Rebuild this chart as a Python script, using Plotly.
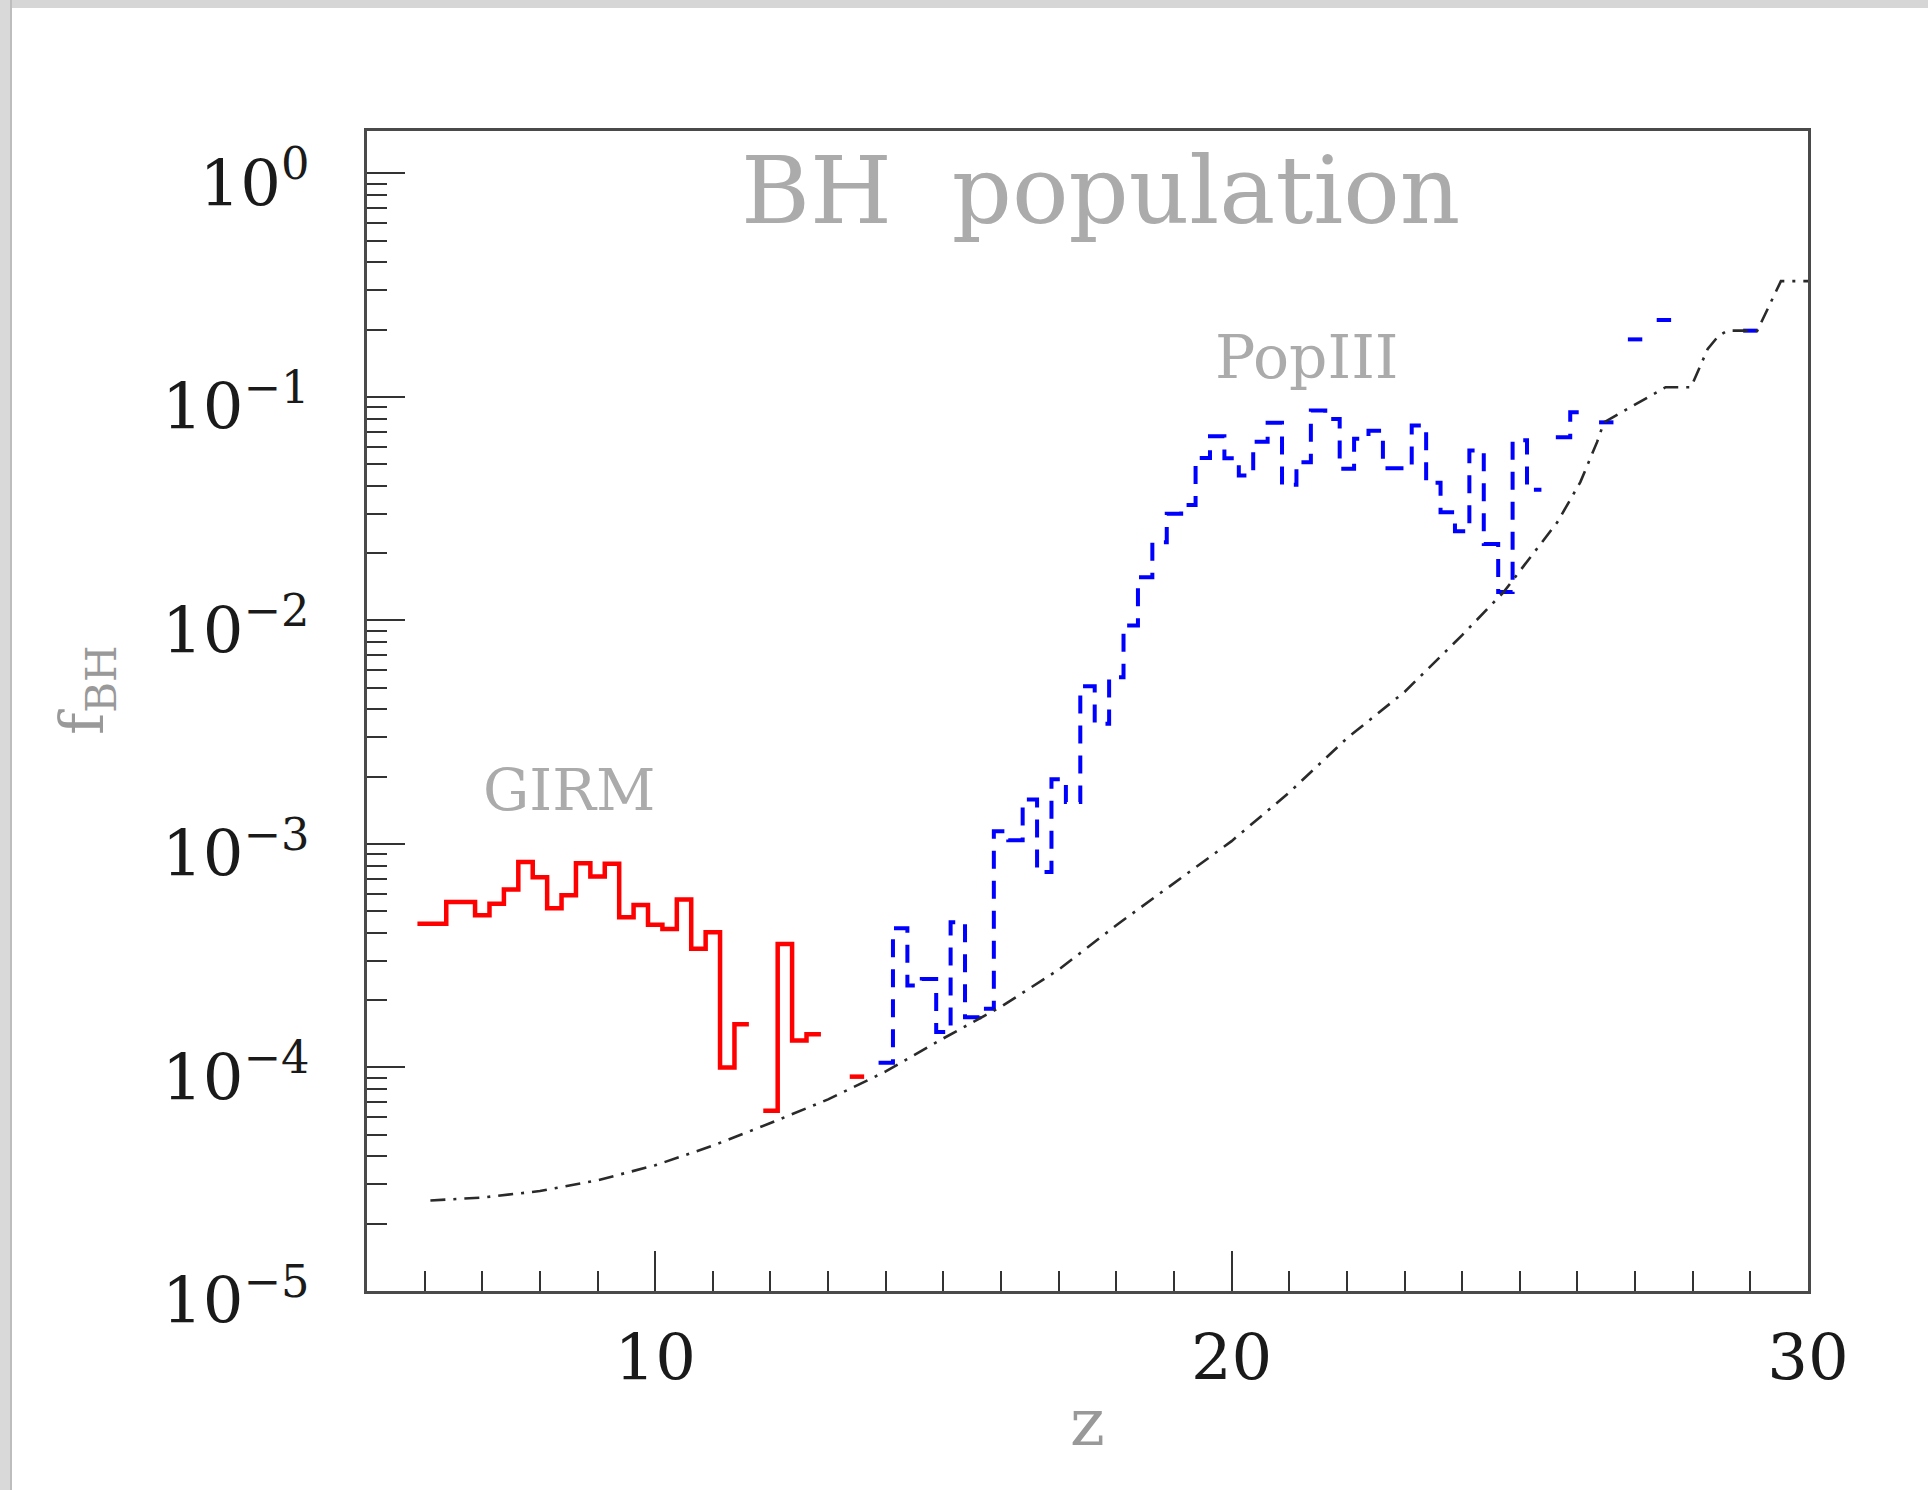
import plotly.graph_objects as go

# ---------------------------------------------------------------------------
# Data: black-hole fraction per redshift bin (bin width 0.25 in z)
# ---------------------------------------------------------------------------
BIN_HALF = 0.125

# GIRM seeds (red, solid histogram)
girm_z = [6.0, 6.25, 6.5, 6.75, 7.0, 7.25, 7.5, 7.75, 8.0, 8.25, 8.5, 8.75,
          9.0, 9.25, 9.5, 9.75, 10.0, 10.25, 10.5, 10.75, 11.0, 11.25, 11.5,
          11.75, 12.0, 12.25, 12.5, 12.75, 13.0, 13.25, 13.5]
girm_f = [4.4e-4, 4.4e-4, 5.5e-4, 5.5e-4, 4.8e-4, 5.4e-4, 6.25e-4, 8.3e-4,
          7.1e-4, 5.16e-4, 5.9e-4, 8.2e-4, 7.15e-4, 8.15e-4, 4.7e-4, 5.34e-4,
          4.35e-4, 4.17e-4, 5.64e-4, 3.4e-4, 4.03e-4, 1.0e-4, 1.56e-4,
          None, 6.4e-5, 3.57e-4, 1.32e-4, 1.41e-4, None, None, 9.1e-5]

# PopIII seeds (blue, dashed histogram)
pop3_z = [14.0, 14.25, 14.5, 14.75, 15.0, 15.25, 15.5, 15.75, 16.0, 16.25,
          16.5, 16.75, 17.0, 17.25, 17.5, 17.75, 18.0, 18.25, 18.5, 18.75,
          19.0, 19.25, 19.5, 19.75, 20.0, 20.25, 20.5, 20.75, 21.0, 21.25,
          21.5, 21.75, 22.0, 22.25, 22.5, 22.75, 23.0, 23.25, 23.5, 23.75,
          24.0, 24.25, 24.5, 24.75, 25.0, 25.25, 25.5, 25.75, 26.0, 26.25,
          26.5, 26.75, 27.0, 27.25, 27.5, 27.75, 28.0, 28.25, 28.5, 28.75,
          29.0]
pop3_f = [1.05e-4, 4.2e-4, 2.33e-4, 2.49e-4, 1.44e-4, 4.47e-4, 1.68e-4,
          1.83e-4, 1.14e-3, 1.04e-3, 1.58e-3, 7.5e-4, 1.95e-3, 1.54e-3,
          5.08e-3, 3.45e-3, 5.57e-3, 9.5e-3, 1.56e-2, 2.24e-2, 3.0e-2,
          3.29e-2, 5.33e-2, 6.68e-2, 5.32e-2, 4.45e-2, 6.3e-2, 7.66e-2,
          4.05e-2, 5.1e-2, 8.7e-2, 7.98e-2, 4.77e-2, 6.5e-2, 7.07e-2, 4.8e-2,
          4.8e-2, 7.45e-2, 4.13e-2, 3.05e-2, 2.51e-2, 5.76e-2, 2.2e-2,
          1.34e-2, 6.4e-2, 3.85e-2, None, 6.6e-2, 8.55e-2, None, 7.7e-2,
          None, 0.181, None, 0.221, None, None, None, None, None, 0.198]

# Total BH fraction (black, dash-dot curve)
total_z = [6.1, 7.0, 8.0, 9.0, 10.0, 11.0, 12.0, 13.0, 14.0, 15.0, 16.0,
           17.0, 18.0, 19.0, 20.0, 21.0, 22.0, 23.0, 24.0, 24.72, 25.2,
           25.65, 26.05, 26.34, 26.46, 26.98, 27.53, 27.97, 28.26, 28.45,
           28.6, 29.12, 29.53, 30.0]
total_f = [2.54e-5, 2.62e-5, 2.8e-5, 3.13e-5, 3.65e-5, 4.47e-5, 5.64e-5,
           7.2e-5, 9.6e-5, 1.35e-4, 1.87e-4, 2.74e-4, 4.33e-4, 6.65e-4,
           1.03e-3, 1.7e-3, 2.97e-3, 4.79e-3, 8.6e-3, 1.34e-2, 1.95e-2,
           2.75e-2, 4.16e-2, 6.28e-2, 7.7e-2, 9.15e-2, 0.1106, 0.1106, 0.164,
           0.188, 0.198, 0.198, 0.33, 0.33]

x_major = [10, 20, 30]
x_major_text = ["10", "20", "30"]
y_major = [1e-5, 1e-4, 1e-3, 1e-2, 1e-1, 1.0]
y_major_text = ["10<sup>\u22125</sup>", "10<sup>\u22124</sup>",
                "10<sup>\u22123</sup>", "10<sup>\u22122</sup>",
                "10<sup>\u22121</sup>", "10<sup>0</sup>"]


def step_path(centres, values, half):
    """Histogram outline; empty bins break the line."""
    xs, ys = [], []
    prev_c, prev_v = None, None
    for c, v in zip(centres, values):
        if v is None:
            if prev_v is not None:
                xs.append(None)
                ys.append(None)
            prev_c, prev_v = c, None
            continue
        if prev_v is not None and abs(c - prev_c - 2 * half) > 1e-9:
            xs.append(None)
            ys.append(None)
        xs += [c - half, c + half]
        ys += [v, v]
        prev_c, prev_v = c, v
    return xs, ys


SERIF = "DejaVu Serif"
GREY_TEXT = "#ababab"

fig = go.Figure()

gx, gy = step_path(girm_z, girm_f, BIN_HALF)
fig.add_trace(go.Scatter(x=gx, y=gy, mode="lines", name="GIRM",
                         line=dict(color="#ff0000", width=4.5),
                         connectgaps=False, hoverinfo="skip"))

px, py = step_path(pop3_z, pop3_f, BIN_HALF)
fig.add_trace(go.Scatter(x=px, y=py, mode="lines", name="PopIII",
                         line=dict(color="#0000ff", width=4,
                                   dash="18px,12px"),
                         connectgaps=False, hoverinfo="skip"))

fig.add_trace(go.Scatter(x=total_z, y=total_f, mode="lines", name="total",
                         line=dict(color="#2a2a2a", width=2.6,
                                   dash="15px,8px,3px,8px"),
                         hoverinfo="skip"))

x_minor = [v for v in range(6, 30) if v not in x_major]
y_minor = [k * 10.0 ** e for e in range(-5, 0) for k in range(2, 10)]

fig.update_layout(
    width=1928, height=1490,
    margin=dict(l=367, r=120, t=131, b=199),
    paper_bgcolor="white", plot_bgcolor="white",
    showlegend=False,
    font=dict(family=SERIF, color="#1a1a1a"),
    xaxis=dict(
        range=[5, 30], showgrid=False, zeroline=False,
        showline=True, mirror=True, linecolor="#4a4a4a", linewidth=2.5,
        tickmode="array", tickvals=x_major, ticktext=x_major_text,
        ticks="inside", ticklen=40, tickwidth=1.6, tickcolor="#333333",
        tickfont=dict(family=SERIF, size=64, color="#1a1a1a"),
        ticklabelstandoff=9,
        minor=dict(tickmode="array", tickvals=x_minor, ticks="inside",
                   ticklen=20, tickwidth=1.6, tickcolor="#333333",
                   showgrid=False),
    ),
    yaxis=dict(
        type="log", range=[-5, 0.19], showgrid=False, zeroline=False,
        showline=True, mirror=True, linecolor="#4a4a4a", linewidth=2.5,
        tickmode="array", tickvals=y_major, ticktext=y_major_text,
        ticks="inside", ticklen=38, tickwidth=1.6, tickcolor="#333333",
        tickfont=dict(family=SERIF, size=64, color="#1a1a1a"),
        ticklabelstandoff=42, ticklabelshift=10,
        minor=dict(tickmode="array", tickvals=y_minor, ticks="inside",
                   ticklen=20, tickwidth=1.6, tickcolor="#333333",
                   showgrid=False),
    ),
)

# Window-frame strips along the top and left edges
W, H = 1441.0, 1160.0
L, T, B = 367.0, 131.0, 199.0


def px_to_paper(x0, y0, x1, y1):
    return dict(x0=(x0 - L) / W, x1=(x1 - L) / W,
                y0=1 - (y0 - T) / H, y1=1 - (y1 - T) / H)


fig.add_shape(type="rect", xref="paper", yref="paper", layer="above",
              line=dict(width=0), fillcolor="#d6d6d6",
              **px_to_paper(0, 0, 1928, 8))
fig.add_shape(type="rect", xref="paper", yref="paper", layer="above",
              line=dict(width=0), fillcolor="#d9d9d9",
              **px_to_paper(0, 0, 11, 1490))
fig.add_shape(type="rect", xref="paper", yref="paper", layer="above",
              line=dict(width=0), fillcolor="#bdbdbd",
              **px_to_paper(10, 0, 12, 1490))

# Labels
fig.add_annotation(text="BH  population", xref="paper", yref="paper",
                   x=(1100 - L) / W, y=1 - (190 - T) / H,
                   xanchor="center", yanchor="middle", showarrow=False,
                   font=dict(family=SERIF, size=94, color=GREY_TEXT))
fig.add_annotation(text="PopIII", xref="x", yref="y",
                   x=21.31, y=-0.82, xanchor="center", yanchor="middle",
                   showarrow=False,
                   font=dict(family=SERIF, size=60, color=GREY_TEXT))
fig.add_annotation(text="GIRM", xref="x", yref="y",
                   x=8.51, y=-2.758, xanchor="center", yanchor="middle",
                   showarrow=False,
                   font=dict(family=SERIF, size=58, color=GREY_TEXT))
fig.add_annotation(text="z", xref="paper", yref="paper",
                   x=(1087 - L) / W, y=1 - (1422 - T) / H,
                   xanchor="center", yanchor="middle", showarrow=False,
                   font=dict(family=SERIF, size=66, color="#999999"))
fig.add_annotation(text="f<sub>BH</sub>", xref="paper", yref="paper",
                   x=(86 - L) / W, y=1 - (690 - T) / H, textangle=-90,
                   xanchor="center", yanchor="middle", showarrow=False,
                   font=dict(family=SERIF, size=60, color="#999999"))

fig.write_html("out.html")
